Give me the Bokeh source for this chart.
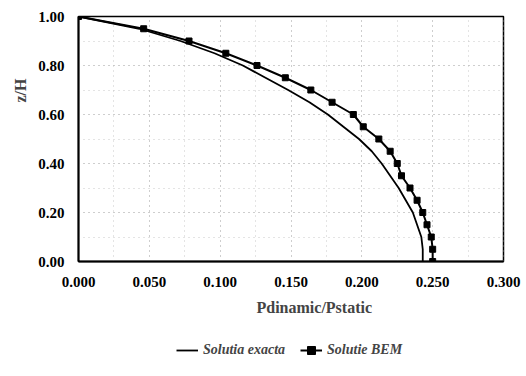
from bokeh.plotting import figure
from bokeh.layouts import column
from bokeh.models import Range1d, FixedTicker, PrintfTickFormatter, Legend, LegendItem, Title
from bokeh.embed import file_html
from bokeh.resources import INLINE

# Data
z_levels = [1.00, 0.95, 0.90, 0.85, 0.80, 0.75, 0.70, 0.65, 0.60, 0.55, 0.50,
            0.45, 0.40, 0.35, 0.30, 0.25, 0.20, 0.15, 0.10, 0.05, 0.00]
p_exact = [0.000, 0.043, 0.072, 0.096, 0.116, 0.132, 0.148, 0.163, 0.176, 0.187, 0.198,
           0.207, 0.214, 0.220, 0.226, 0.231, 0.236, 0.239, 0.242, 0.243, 0.243]
p_bem = [0.000, 0.046, 0.078, 0.104, 0.126, 0.146, 0.164, 0.179, 0.194, 0.201, 0.212,
         0.220, 0.225, 0.228, 0.234, 0.239, 0.243, 0.246, 0.249, 0.250, 0.250]

x_ticks = [0.0, 0.05, 0.10, 0.15, 0.20, 0.25, 0.30]
y_ticks = [0.0, 0.2, 0.4, 0.6, 0.8, 1.0]
label_exact = "Solutia exacta"
label_bem = "Solutie BEM"
x_title = "Pdinamic/Pstatic"
y_title = "z/H"

FONT = "Liberation Serif"

p = figure(width=526, height=322, output_backend="svg", toolbar_location=None,
           x_range=Range1d(0, 0.3), y_range=Range1d(0, 1.0),
           min_border_left=78, min_border_right=23, min_border_top=16, min_border_bottom=60)

p.outline_line_color = "black"
p.outline_line_width = 1.5

p.line(p_exact, z_levels, line_color="black", line_width=1.8)
p.line(p_bem, z_levels, line_color="black", line_width=2)
p.scatter(p_bem, z_levels, marker="square", size=6, color="black")

for ax, fmt in ((p.xaxis[0], "%.3f"), (p.yaxis[0], "%.2f")):
    ax.formatter = PrintfTickFormatter(format=fmt)
    ax.major_label_text_font = FONT
    ax.major_label_text_font_style = "bold"
    ax.major_label_text_font_size = "15px"
    ax.major_label_text_color = "black"
    ax.axis_line_width = 2
    ax.axis_line_color = "black"
    ax.major_tick_line_color = None
    ax.minor_tick_line_color = None

p.xaxis[0].ticker = FixedTicker(ticks=x_ticks, minor_ticks=[i * 0.025 for i in range(13)])
p.yaxis[0].ticker = FixedTicker(ticks=y_ticks, minor_ticks=[i * 0.1 for i in range(11)])
p.xaxis[0].major_label_standoff = 9
p.yaxis[0].major_label_standoff = 8

# Axis titles (placed off-centre as in the reference)
ty = Title(text=y_title, align="left", offset=159, text_font=FONT,
           text_font_style="bold", text_font_size="16px")
tx = Title(text=x_title, align="left", offset=178, text_font=FONT,
           text_font_style="bold", text_font_size="16px")
if "standoff" in Title.properties():
    ty.standoff = 13
    tx.standoff = 14
p.add_layout(ty, "left")
p.add_layout(tx, "below")

for g in (p.xgrid[0], p.ygrid[0]):
    g.grid_line_color = "#b8b8b8"
    g.grid_line_dash = "1 4"
    g.grid_line_width = 1
    g.minor_grid_line_color = "#c8c8c8"
    g.minor_grid_line_dash = "1 4"
    g.minor_grid_line_width = 1

# Legend strip below the chart (its renderers sit outside the strip's view)
leg = figure(width=526, height=54, output_backend="svg", toolbar_location=None,
             x_axis_location=None, y_axis_location=None,
             x_range=Range1d(5, 6), y_range=Range1d(5, 6), min_border=0)
leg.grid.visible = False
leg.outline_line_color = None
r_exact = leg.line(p_exact, z_levels, line_color="black", line_width=1.8)
r_bem_line = leg.line(p_bem, z_levels, line_color="black", line_width=2)
r_bem_pts = leg.scatter(p_bem, z_levels, marker="square", size=6, color="black")

legend = Legend(items=[LegendItem(label=label_exact, renderers=[r_exact]),
                       LegendItem(label=label_bem, renderers=[r_bem_line, r_bem_pts])],
                orientation="horizontal", location=(98, 16))
legend.label_text_font = FONT
legend.label_text_font_style = "bold italic"
legend.label_text_font_size = "14px"
legend.border_line_color = None
legend.background_fill_alpha = 0
legend.glyph_width = 22
legend.spacing = 15
legend.margin = 0
legend.padding = 2
leg.add_layout(legend)

layout = column(p, leg, spacing=0)
open("out.html", "w").write(file_html(layout, INLINE))
